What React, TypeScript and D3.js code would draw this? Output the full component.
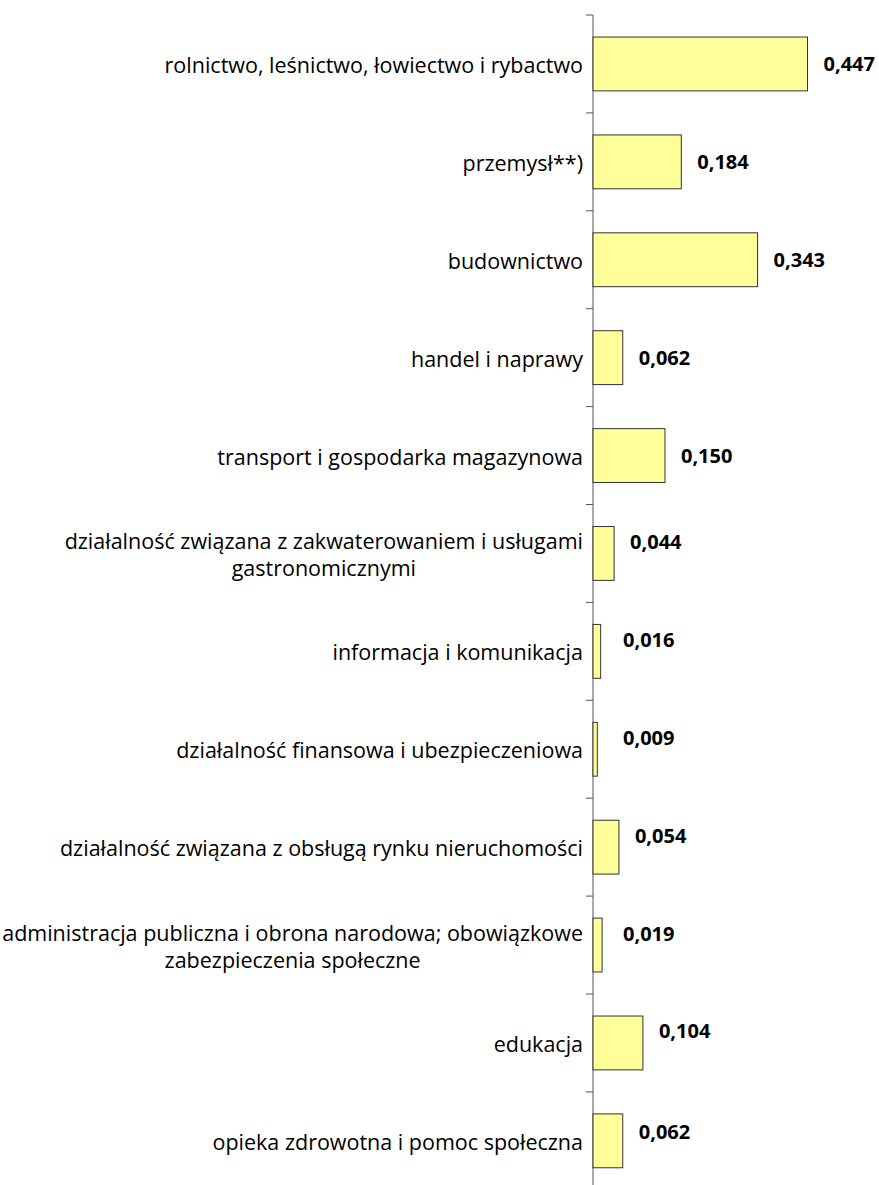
import React from "react";
import * as d3 from "d3";

const categories: string[][] = [
  ["rolnictwo, leśnictwo, łowiectwo i rybactwo"],
  ["przemysł**)"],
  ["budownictwo"],
  ["handel i naprawy"],
  ["transport i gospodarka magazynowa"],
  ["działalność związana z zakwaterowaniem i usługami", "gastronomicznymi"],
  ["informacja i komunikacja"],
  ["działalność finansowa i ubezpieczeniowa"],
  ["działalność związana z obsługą rynku nieruchomości"],
  ["administracja publiczna i obrona narodowa; obowiązkowe", "zabezpieczenia społeczne"],
  ["edukacja"],
  ["opieka zdrowotna i pomoc społeczna"],
];
const values: number[] = [0.447, 0.184, 0.343, 0.062, 0.15, 0.044, 0.016, 0.009, 0.054, 0.019, 0.104, 0.062];
const valueLabels: string[] = ["0,447", "0,184", "0,343", "0,062", "0,150", "0,044", "0,016", "0,009", "0,054", "0,019", "0,104", "0,062"];

const W = 879;
const H = 1185;
const FONT = "'Open Sans', Lato, sans-serif";

export default function App() {
  const idx = values.map((_, i) => String(i));
  const x0 = 593;
  const x = d3.scaleLinear().domain([0, 0.447]).range([x0, 807.5]);
  const y = d3.scaleBand().domain(idx).range([15, 15 + 97.9 * 12]).paddingInner(0.45).paddingOuter(0.225);
  const boundaries = d3.range(13).map((i) => 15 + 97.9 * i);

  return (
    <svg width={W} height={H} style={{ position: "absolute", left: 0, top: 0, background: "#fff" }}>
      <line x1={x0} x2={x0} y1={15} y2={H} stroke="#555" strokeWidth={1} />
      {boundaries.map((b, i) => (
        <line key={"t" + i} x1={x0 - 7} x2={x0} y1={b} y2={b} stroke="#555" strokeWidth={1} />
      ))}
      {values.map((v, i) => {
        const yy = y(String(i))!;
        const bh = y.bandwidth();
        const cy = yy + bh / 2;
        const lines = categories[i];
        const lh = 27;
        const end = x(v);
        const lx = Math.max(end + 16, 623);
        const dy = i >= 5 ? (i === 11 ? -9 : -12) : 0;
        return (
          <g key={i}>
            <rect x={x0} y={yy} width={end - x0} height={bh} fill="#FFFF99" stroke="#333" strokeWidth={1} />
            <text
              x={583}
              y={cy - ((lines.length - 1) / 2) * lh}
              textAnchor="middle"
              dominantBaseline="central"
              fontFamily={FONT}
              fontSize={21.5}
              fill="#000"
              ref={(el) => {
                if (el) {
                  const tspans = el.querySelectorAll("tspan");
                  let maxW = 0;
                  tspans.forEach((t) => { maxW = Math.max(maxW, (t as SVGTSpanElement).getComputedTextLength()); });
                  const cx = 583 - maxW / 2;
                  tspans.forEach((t) => t.setAttribute("x", String(cx)));
                }
              }}
            >
              {lines.map((ln, j) => (
                <tspan key={j} x={583} dy={j === 0 ? 0 : lh}>{ln}</tspan>
              ))}
            </text>
            <text
              x={lx}
              y={cy + dy}
              dominantBaseline="central"
              fontFamily={FONT}
              fontSize={20}
              fontWeight="bold"
              fill="#000"
            >
              {valueLabels[i]}
            </text>
          </g>
        );
      })}
    </svg>
  );
}
